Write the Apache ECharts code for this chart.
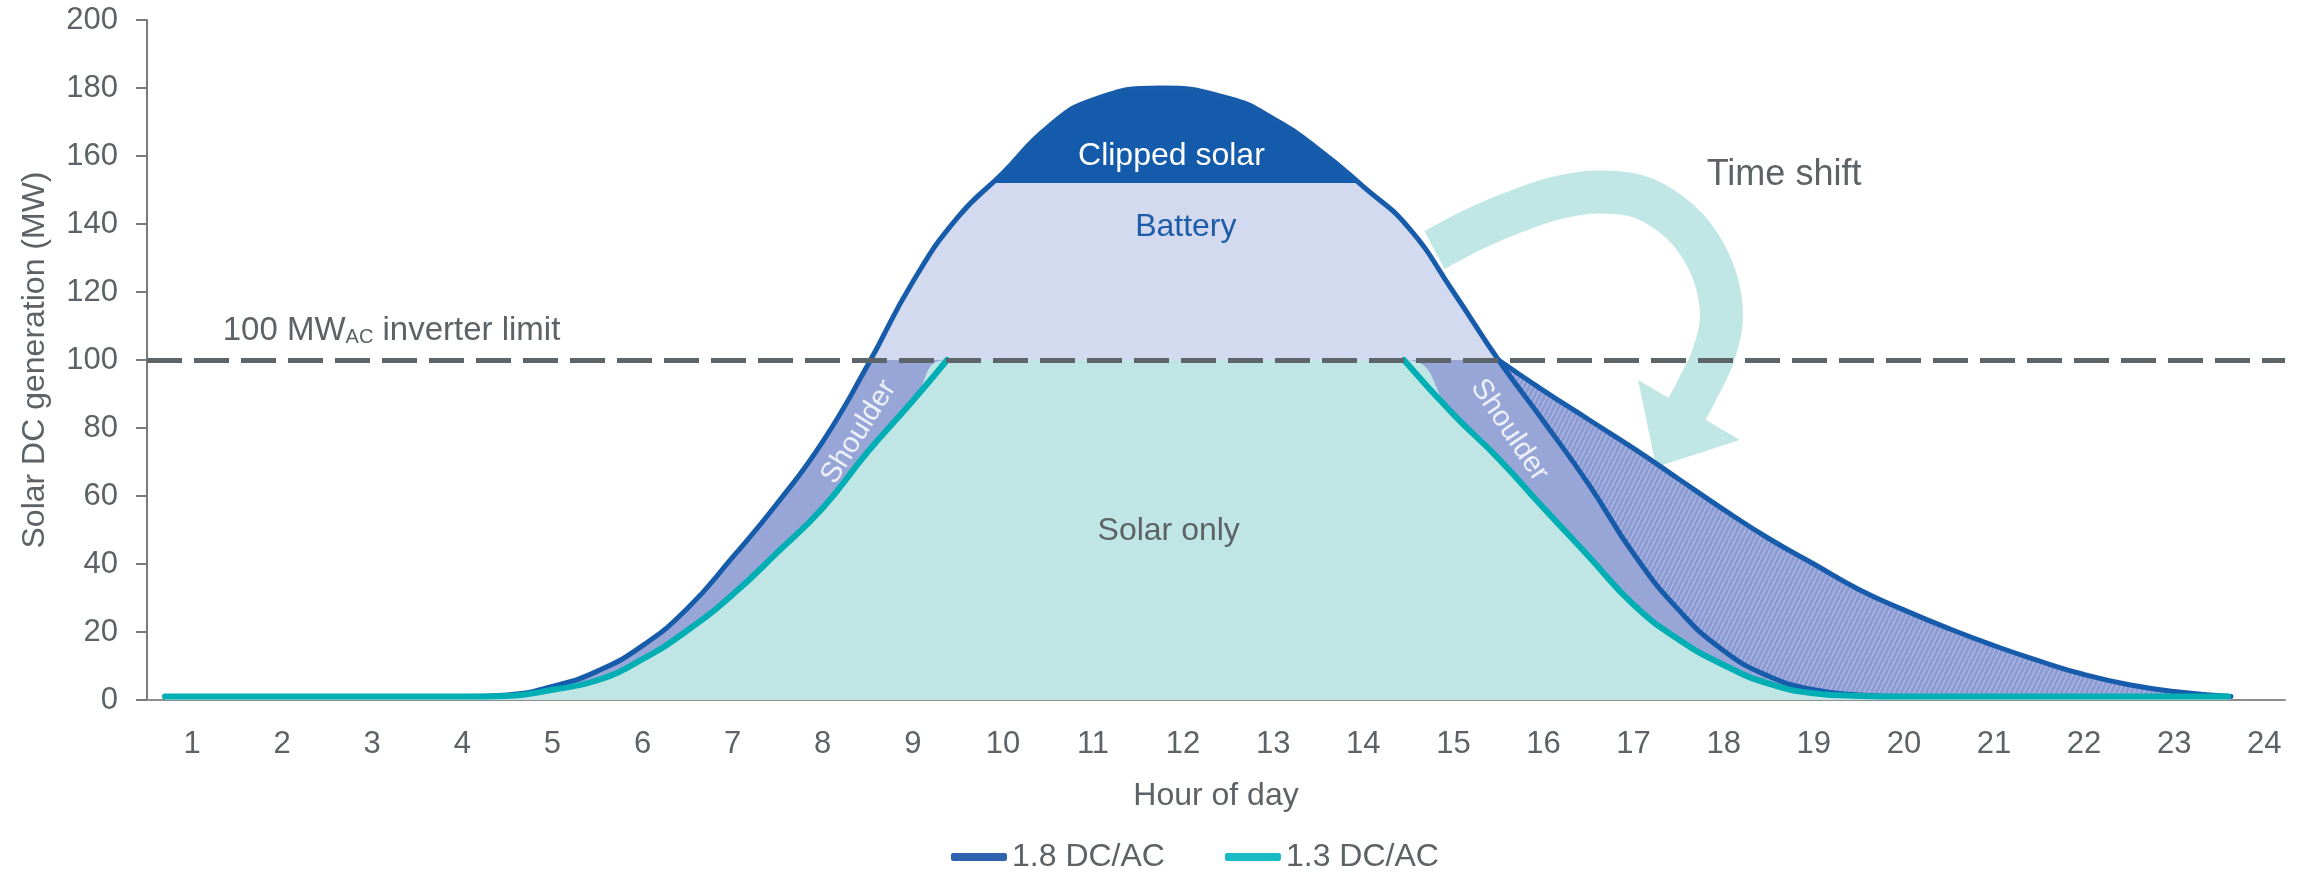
<!DOCTYPE html>
<html>
<head>
<meta charset="utf-8">
<script src="https://cdn.jsdelivr.net/npm/echarts@6/dist/echarts.min.js"></script>
<style>
html,body{margin:0;padding:0;background:#ffffff;}
#chart{width:2310px;height:877px;}
</style>
</head>
<body>
<div id="chart"></div>
<script>
// ---------------- data ----------------
const xTickLabels = [1,2,3,4,5,6,7,8,9,10,11,12,13,14,15,16,17,18,19,20,21,22,23,24];

// 1.8 DC/AC solar DC generation (MW)
const hours18 = [0.7, 1, 2, 3, 4, 4.5, 5, 5.5, 6, 6.5, 7, 7.5, 8, 8.5, 9, 9.5, 10, 10.5, 11, 11.75, 12.5, 13, 13.5, 14, 14.5, 15, 15.5, 16, 16.5, 17, 17.5, 18, 18.5, 19, 19.5, 20, 21, 22, 23, 23.6];
const gen18   = [1,   1, 1, 1, 1, 1.5, 4, 8.5, 16, 27, 42, 58, 76, 98.5, 123, 142, 155, 168.5, 176.5, 180, 177, 171, 162, 151, 139, 120, 100, 82, 63.5, 43, 26.5, 14.5, 7, 3, 1.5, 1, 1, 1, 1, 1];

// 1.3 DC/AC solar DC generation, clipped at the inverter limit (MW)
const hours13 = [0.7, 1, 2, 3, 4, 4.5, 5, 5.5, 6, 6.5, 7, 7.5, 8, 8.5, 9, 9.38, 14.45, 15, 15.5, 16, 16.5, 17, 17.5, 18, 18.5, 19, 19.5, 20, 21, 22, 23, 23.6];
const gen13   = [1,   1, 1, 1, 1, 1.2, 3, 5.8, 12, 20.5, 31, 43.5, 56.5, 73, 88, 100, 100, 84, 71, 56.5, 42.3, 28, 17.8, 10.3, 4.8, 2, 1.2, 1, 1, 1, 1, 1];

// Time-shifted output (battery discharge after sunset) (MW)
const hoursShift = [15.5, 16, 16.5, 17, 17.5, 18, 18.5, 19, 19.5, 20, 20.5, 21, 21.5, 22, 22.5, 23, 23.63];
const genShift   = [100, 91, 82.5, 74, 65, 56, 47.5, 40, 32.5, 26.5, 21, 16, 11.5, 7.5, 4.5, 2.5, 1];

const inverterLimit = 100;   // MW AC
const clipLevel = 152;       // MW, top of battery band

// ---------------- styling ----------------
const FONT = '"Liberation Sans", Arial, sans-serif';
const GREY = '#5C6266';
const BLUE = '#175CAB';
const TEAL = '#00AEB4';
const SMOOTH = 0.5;

const zip = (xs, ys) => xs.map((x, i) => [x, ys[i]]);
const pts18 = zip(hours18, gen18);
const pts13 = zip(hours13, gen13);
const ptsShift = zip(hoursShift, genShift);
// 1.3 line is not drawn along the clipped plateau
const tealLinePts = [];
pts13.forEach((p, i) => {
  tealLinePts.push(p);
  if (i < pts13.length - 1 && p[1] >= inverterLimit && pts13[i + 1][1] >= inverterLimit) {
    tealLinePts.push([(p[0] + pts13[i + 1][0]) / 2, '-']);
  }
});

// diagonal hatch pattern for the time-shifted energy
function hatchPattern() {
  const c = document.createElement('canvas');
  c.width = 5; c.height = 10;
  const g = c.getContext('2d');
  g.fillStyle = '#8B9AD1';
  g.fillRect(0, 0, 5, 10);
  g.strokeStyle = '#A9B5E2';
  g.lineWidth = 1.5;
  [-5, 0, 5].forEach(dx => { g.beginPath(); g.moveTo(dx, 10); g.lineTo(dx + 5, 0); g.stroke(); });
  return {image: c, repeat: 'repeat'};
}

const chart = echarts.init(document.getElementById('chart'), null, {renderer: 'canvas'});

const option = {
  animation: false,
  backgroundColor: '#ffffff',
  textStyle: {fontFamily: FONT},
  grid: {left: 147, right: 25, top: 20, bottom: 177, containLabel: false, outerBoundsMode: 'none'},
  xAxis: {
    type: 'value', min: 0.5, max: 24.23,
    axisLine: {show: true, onZero: false, lineStyle: {color: '#8E8E8E', width: 2}},
    axisTick: {show: false},
    splitLine: {show: false},
    axisLabel: {customValues: xTickLabels, fontSize: 31, color: GREY, margin: 29, fontFamily: FONT},
    name: 'Hour of day', nameLocation: 'middle', nameGap: 80,
    nameTextStyle: {fontSize: 32, color: GREY, fontFamily: FONT}
  },
  yAxis: {
    type: 'value', min: 0, max: 200, interval: 20,
    axisLine: {show: true, lineStyle: {color: '#7A7A7A', width: 2}},
    axisTick: {show: true, length: 11, lineStyle: {color: '#7A7A7A', width: 2}},
    splitLine: {show: false},
    axisLabel: {fontSize: 31, color: GREY, margin: 29, fontFamily: FONT},
    name: 'Solar DC generation (MW)', nameLocation: 'middle', nameGap: 96,
    nameTextStyle: {fontSize: 32, color: GREY, fontFamily: FONT}
  },
  legend: {
    left: 946, top: 836, itemWidth: 56, itemHeight: 8, itemGap: 60, icon: 'roundRect',
    textStyle: {fontSize: 32, color: GREY, fontFamily: FONT},
    data: [
      {name: '1.8 DC/AC', itemStyle: {color: '#2F63AF'}},
      {name: '1.3 DC/AC', itemStyle: {color: '#1BBBC5'}}
    ]
  },
  visualMap: [{
    type: 'piecewise', show: false, seriesIndex: 1, dimension: 1,
    pieces: [
      {gte: -1000, lt: inverterLimit, color: '#97A6D6'},
      {gte: inverterLimit, lt: clipLevel, color: '#D3D9EE'},
      {gte: clipLevel, lte: 1000, color: '#145CAB'}
    ],
    outOfRange: {color: '#97A6D6'}
  }],
  series: [
    { // hatched time-shift region
      name: 'Time shift area', type: 'line', data: ptsShift, smooth: SMOOTH,
      showSymbol: false, silent: true, z: 1,
      lineStyle: {width: 0},
      areaStyle: {color: hatchPattern(), opacity: 1}
    },
    { // area under 1.8 curve: shoulder / battery / clipped bands
      name: 'Bands', type: 'line', data: pts18, smooth: SMOOTH,
      showSymbol: false, silent: true, z: 2,
      lineStyle: {width: 0},
      areaStyle: {opacity: 1}
    },
    { // solar only
      name: 'Solar only', type: 'line', data: pts13, smooth: SMOOTH,
      showSymbol: false, silent: true, z: 3,
      lineStyle: {width: 0},
      areaStyle: {color: '#BFE6E4', opacity: 1}
    },
    {
      name: 'Time shift line', type: 'line', data: ptsShift, smooth: SMOOTH,
      showSymbol: false, silent: true, z: 4,
      lineStyle: {color: BLUE, width: 5, cap: 'round'}, itemStyle: {color: BLUE}
    },
    {
      name: '1.8 DC/AC', type: 'line', data: pts18, smooth: SMOOTH,
      showSymbol: false, silent: true, z: 5,
      lineStyle: {color: BLUE, width: 5, cap: 'round'}, itemStyle: {color: BLUE}
    },
    {
      name: '1.3 DC/AC', type: 'line', data: tealLinePts, smooth: SMOOTH,
      showSymbol: false, silent: true, z: 6, connectNulls: false,
      lineStyle: {color: TEAL, width: 6, cap: 'round'}, itemStyle: {color: TEAL},
      markLine: {
        silent: true, symbol: 'none', z: 20, animation: false,
        label: {show: false},
        lineStyle: {color: '#5E656A', width: 5, type: [35, 12], cap: 'butt'},
        data: [{yAxis: inverterLimit}]
      }
    }
  ]
};
chart.setOption(option);

// ---------------- annotations anchored in data coordinates ----------------
const px = (h, v) => chart.convertToPixel({gridIndex: 0}, [h, v]);
function label(h, v, text, o) {
  const p = px(h, v);
  return {
    type: 'text', x: p[0], y: p[1], rotation: (o.rot || 0) * Math.PI / 180, z: 50, silent: true,
    style: {text: text, fill: o.color, fontSize: o.size, fontFamily: FONT,
            textAlign: o.align || 'center', textVerticalAlign: o.valign || 'middle', rich: o.rich}
  };
}
// dense smooth polyline (Catmull-Rom) through the arrow's guide points
function densify(p, steps) {
  const out = [p[0]];
  for (let i = 0; i < p.length - 1; i++) {
    const a = p[Math.max(i - 1, 0)], b = p[i], c = p[i + 1], e = p[Math.min(i + 2, p.length - 1)];
    const c1 = [b[0] + (c[0] - a[0]) / 6, b[1] + (c[1] - a[1]) / 6];
    const c2 = [c[0] - (e[0] - b[0]) / 6, c[1] - (e[1] - b[1]) / 6];
    for (let s = 1; s <= steps; s++) {
      const t = s / steps, u = 1 - t;
      out.push([
        u*u*u*b[0] + 3*u*u*t*c1[0] + 3*u*t*t*c2[0] + t*t*t*c[0],
        u*u*u*b[1] + 3*u*u*t*c1[1] + 3*u*t*t*c2[1] + t*t*t*c[1]
      ]);
    }
  }
  return out;
}
const arrowGuide = [[14.79,132.35],[15.234,138.53],[15.678,143.53],[16.144,147.65],[16.633,149.41],[17.132,147.35],[17.587,138.82],[17.876,126.47],[17.975,113.24],[17.886,101.47],[17.709,91.47],[17.587,85.29]].map(p => px(p[0], p[1]));
const arrowHead = [[17.05,94.1],[18.18,76.5],[17.25,68.5]].map(p => px(p[0], p[1]));

chart.setOption({
  graphic: {elements: [
    {type: 'polyline', z: 0, silent: true, shape: {points: densify(arrowGuide, 16)},
     style: {stroke: '#C0E7E5', lineWidth: 43, fill: null, lineCap: 'butt', lineJoin: 'round'}},
    {type: 'polygon', z: 0, silent: true, shape: {points: arrowHead}, style: {fill: '#C0E7E5'}},
    label(11.87, 160, 'Clipped solar', {color: '#FFFFFF', size: 32}),
    label(12.03, 139, 'Battery', {color: '#1D5CA8', size: 32}),
    label(11.84, 49.7, 'Solar only', {color: GREY, size: 32}),
    label(18.67, 154.4, 'Time shift', {color: GREY, size: 36}),
    label(8.40, 78.8, 'Shoulder', {color: '#EEF1FA', size: 29, rot: 58}),
    label(15.62, 79.4, 'Shoulder', {color: '#EEF1FA', size: 29, rot: -56}),
    label(1.34, 108.5, '100 MW{sub|AC} inverter limit', {color: GREY, size: 33, align: 'left',
      rich: {sub: {fontSize: 20, fill: GREY, verticalAlign: 'bottom', fontFamily: FONT}}})
  ]}
});
</script>
</body>
</html>
